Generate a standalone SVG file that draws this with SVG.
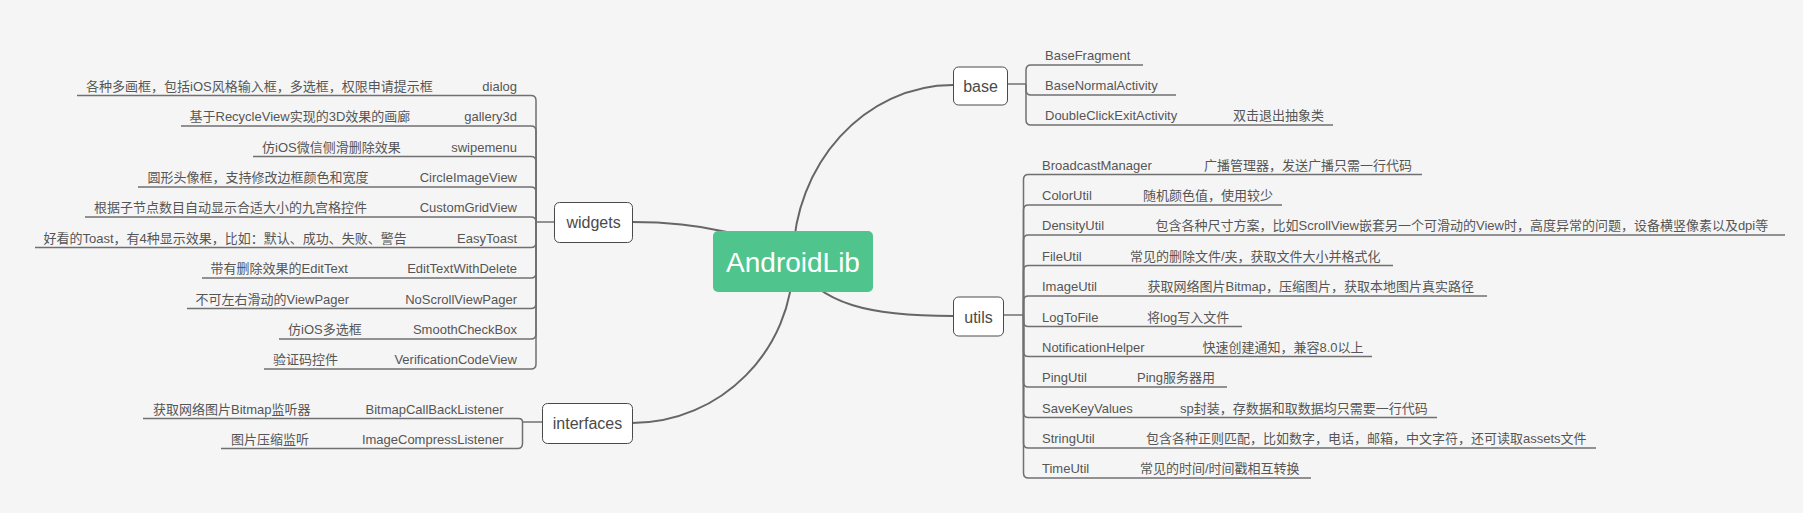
<svg xmlns="http://www.w3.org/2000/svg" width="1803" height="513" viewBox="0 0 1803 513">
<style>
.t{font-family:"Liberation Sans","Noto Sans CJK SC",sans-serif;font-size:13px;fill:#555}
.r{text-anchor:end}
.nt{font-family:"Liberation Sans","Noto Sans CJK SC",sans-serif;font-size:16px;fill:#4a4a4a;text-anchor:middle}
.ln{fill:none;stroke:#707070;stroke-width:1.5}
.main{fill:none;stroke:#666;stroke-width:2}
.box{fill:#fff;stroke:#4a4a4a;stroke-width:1}
</style>
<rect width="1803" height="513" fill="#f5f5f5"/>
<g id="connectors">
  <path class="main" d="M632,222 C700,222 760,235 793,261"/>
  <path class="main" d="M793,261 C793,164 865,85 953,85"/>
  <path class="main" d="M793,261 C820,305 870,316 953,316"/>
  <path class="main" d="M793,261 C793,350 721,423 632,423"/>
  <!-- widgets -->
  <path class="ln" d="M554,222 H536"/>
  <path class="ln" d="M536,222 V100.5 Q536,95.5 531,95.5 H77"/>
  <path class="ln" d="M536,222 V131 Q536,126 531,126 H181"/>
  <path class="ln" d="M536,222 V161.5 Q536,156.5 531,156.5 H253"/>
  <path class="ln" d="M536,222 V192 Q536,187 531,187 H138"/>
  <path class="ln" d="M536,222 Q536,217 531,217 H85"/>
  <path class="ln" d="M536,222 V242.5 Q536,247.5 531,247.5 H35"/>
  <path class="ln" d="M536,222 V273 Q536,278 531,278 H202"/>
  <path class="ln" d="M536,222 V303.5 Q536,308.5 531,308.5 H187"/>
  <path class="ln" d="M536,222 V334 Q536,339 531,339 H279"/>
  <path class="ln" d="M536,222 V364 Q536,369 531,369 H264"/>
  <!-- interfaces -->
  <path class="ln" d="M542,422 H522.5"/>
  <path class="ln" d="M522.5,422 Q522.5,418.5 518.5,418.5 H143"/>
  <path class="ln" d="M522.5,422 V443.5 Q522.5,448.5 517.5,448.5 H221"/>
  <!-- base -->
  <path class="ln" d="M1007,84 H1026"/>
  <path class="ln" d="M1026,84 V70 Q1026,65 1031,65 H1143"/>
  <path class="ln" d="M1026,84 V90 Q1026,95 1031,95 H1176"/>
  <path class="ln" d="M1026,84 V120 Q1026,125 1031,125 H1333"/>
  <!-- utils -->
  <path class="ln" d="M1003,315 H1023.5"/>
  <path class="ln" d="M1023.5,315 V179.5 Q1023.5,174.5 1028.5,174.5 H1422"/>
  <path class="ln" d="M1023.5,315 V210 Q1023.5,205 1028.5,205 H1282"/>
  <path class="ln" d="M1023.5,315 V240 Q1023.5,235 1028.5,235 H1785"/>
  <path class="ln" d="M1023.5,315 V270.5 Q1023.5,265.5 1028.5,265.5 H1393"/>
  <path class="ln" d="M1023.5,315 V301 Q1023.5,296 1028.5,296 H1487"/>
  <path class="ln" d="M1023.5,315 V321.5 Q1023.5,326.5 1028.5,326.5 H1242"/>
  <path class="ln" d="M1023.5,315 V351.5 Q1023.5,356.5 1028.5,356.5 H1372"/>
  <path class="ln" d="M1023.5,315 V382 Q1023.5,387 1028.5,387 H1227"/>
  <path class="ln" d="M1023.5,315 V412.5 Q1023.5,417.5 1028.5,417.5 H1437"/>
  <path class="ln" d="M1023.5,315 V443 Q1023.5,448 1028.5,448 H1596"/>
  <path class="ln" d="M1023.5,315 V473 Q1023.5,478 1028.5,478 H1311"/>
</g>
<g id="AndroidLib">
  <rect x="713" y="231" width="160" height="61" rx="5" fill="#50c48d"/>
  <text x="793" y="272" text-anchor="middle" font-family="Liberation Sans, Noto Sans CJK SC, sans-serif" font-size="28" fill="#fff">AndroidLib</text>
</g>
<g id="widgets"><rect class="box" x="554.5" y="202.5" width="78" height="40" rx="5"/><text class="nt" x="593.5" y="228">widgets</text></g>
<g id="interfaces"><rect class="box" x="542.5" y="403.5" width="90" height="40" rx="5"/><text class="nt" x="587.5" y="429">interfaces</text></g>
<g id="base"><rect class="box" x="953.5" y="67" width="54" height="38" rx="5"/><text class="nt" x="980.5" y="92">base</text></g>
<g id="utils"><rect class="box" x="953.5" y="297" width="50" height="39" rx="5"/><text class="nt" x="978.5" y="322.5">utils</text></g>

<g id="w-dialog"><text class="t r" x="517" y="90.5">dialog</text><text class="t" x="86" y="90.5">各种多画框，包括iOS风格输入框，多选框，权限申请提示框</text></g>
<g id="w-gallery3d"><text class="t r" x="517" y="121">gallery3d</text><text class="t" x="189.5" y="121">基于RecycleView实现的3D效果的画廊</text></g>
<g id="w-swipemenu"><text class="t r" x="517" y="151.5">swipemenu</text><text class="t" x="262" y="151.5">仿iOS微信侧滑删除效果</text></g>
<g id="w-CircleImageView"><text class="t r" x="517" y="182">CircleImageView</text><text class="t" x="147.5" y="182">圆形头像框，支持修改边框颜色和宽度</text></g>
<g id="w-CustomGridView"><text class="t r" x="517" y="212">CustomGridView</text><text class="t" x="94" y="212">根据子节点数目自动显示合适大小的九宫格控件</text></g>
<g id="w-EasyToast"><text class="t r" x="517" y="242.5">EasyToast</text><text class="t" x="43.5" y="242.5">好看的Toast，有4种显示效果，比如：默认、成功、失败、警告</text></g>
<g id="w-EditTextWithDelete"><text class="t r" x="517" y="273">EditTextWithDelete</text><text class="t" x="210.5" y="273">带有删除效果的EditText</text></g>
<g id="w-NoScrollViewPager"><text class="t r" x="517" y="303.5">NoScrollViewPager</text><text class="t" x="195.5" y="303.5">不可左右滑动的ViewPager</text></g>
<g id="w-SmoothCheckBox"><text class="t r" x="517" y="334">SmoothCheckBox</text><text class="t" x="288" y="334">仿iOS多选框</text></g>
<g id="w-VerificationCodeView"><text class="t r" x="517" y="364">VerificationCodeView</text><text class="t" x="273" y="364">验证码控件</text></g>

<g id="i-BitmapCallBackListener"><text class="t r" x="503.5" y="413.5">BitmapCallBackListener</text><text class="t" x="153" y="413.5">获取网络图片Bitmap监听器</text></g>
<g id="i-ImageCompressListener"><text class="t r" x="503.5" y="443.5">ImageCompressListener</text><text class="t" x="231" y="443.5">图片压缩监听</text></g>

<g id="b-BaseFragment"><text class="t" x="1045" y="60">BaseFragment</text></g>
<g id="b-BaseNormalActivity"><text class="t" x="1045" y="90">BaseNormalActivity</text></g>
<g id="b-DoubleClickExitActivity"><text class="t" x="1045" y="120">DoubleClickExitActivity</text><text class="t" x="1233" y="120">双击退出抽象类</text></g>

<g id="u-BroadcastManager"><text class="t" x="1042" y="169.5">BroadcastManager</text><text class="t" x="1204" y="169.5">广播管理器，发送广播只需一行代码</text></g>
<g id="u-ColorUtil"><text class="t" x="1042" y="200">ColorUtil</text><text class="t" x="1143" y="200">随机颜色值，使用较少</text></g>
<g id="u-DensityUtil"><text class="t" x="1042" y="230">DensityUtil</text><text class="t" x="1155.5" y="230">包含各种尺寸方案，比如ScrollView嵌套另一个可滑动的View时，高度异常的问题，设备横竖像素以及dpi等</text></g>
<g id="u-FileUtil"><text class="t" x="1042" y="260.5">FileUtil</text><text class="t" x="1130" y="260.5">常见的删除文件/夹，获取文件大小并格式化</text></g>
<g id="u-ImageUtil"><text class="t" x="1042" y="291">ImageUtil</text><text class="t" x="1147.5" y="291">获取网络图片Bitmap，压缩图片，获取本地图片真实路径</text></g>
<g id="u-LogToFile"><text class="t" x="1042" y="321.5">LogToFile</text><text class="t" x="1147" y="321.5">将log写入文件</text></g>
<g id="u-NotificationHelper"><text class="t" x="1042" y="351.5">NotificationHelper</text><text class="t" x="1202.5" y="351.5">快速创建通知，兼容8.0以上</text></g>
<g id="u-PingUtil"><text class="t" x="1042" y="382">PingUtil</text><text class="t" x="1137" y="382">Ping服务器用</text></g>
<g id="u-SaveKeyValues"><text class="t" x="1042" y="412.5">SaveKeyValues</text><text class="t" x="1180" y="412.5">sp封装，存数据和取数据均只需要一行代码</text></g>
<g id="u-StringUtil"><text class="t" x="1042" y="443">StringUtil</text><text class="t" x="1146" y="443">包含各种正则匹配，比如数字，电话，邮箱，中文字符，还可读取assets文件</text></g>
<g id="u-TimeUtil"><text class="t" x="1042" y="473">TimeUtil</text><text class="t" x="1140" y="473">常见的时间/时间戳相互转换</text></g>
</svg>
